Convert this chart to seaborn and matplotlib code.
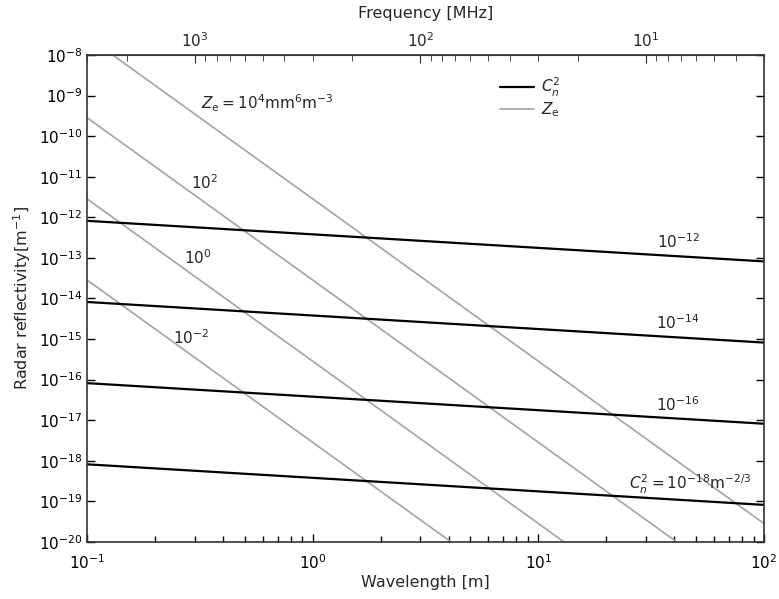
import numpy as np
import pandas as pd
import matplotlib
matplotlib.use("Agg")
import matplotlib.pyplot as plt
import seaborn as sns
from matplotlib.ticker import LogLocator, NullFormatter, FixedLocator

sns.set_style("ticks")
plt.rcParams['font.family'] = ['DejaVu Sans']
plt.rcParams['mathtext.fontset'] = 'dejavusans'

# Data (straight lines on log-log axes: endpoints)
wavelength_ends = [0.1, 100.0]
cn2_labels = ["1e-12", "1e-14", "1e-16", "1e-18"]
cn2_start = [8.2e-13, 8.2e-15, 8.2e-17, 8.2e-19]
cn2_end = [8.2e-14, 8.2e-16, 8.2e-18, 8.2e-20]
ze_labels = ["1e4", "1e2", "1e0", "1e-2"]
ze_start = [2.85e-8, 2.85e-10, 2.85e-12, 2.85e-14]
ze_end = [2.85e-20, 2.85e-22, 2.85e-24, 2.85e-26]
freq_ticks = [1000, 100, 10]

rows = []
for lab, a, b in zip(cn2_labels, cn2_start, cn2_end):
    rows += [("Cn2", lab, wavelength_ends[0], a), ("Cn2", lab, wavelength_ends[1], b)]
for lab, a, b in zip(ze_labels, ze_start, ze_end):
    rows += [("Ze", lab, wavelength_ends[0], a), ("Ze", lab, wavelength_ends[1], b)]
df = pd.DataFrame(rows, columns=["kind", "level", "wavelength", "eta"])

fig = plt.figure(figsize=(7.79, 5.99), dpi=100)
ax = fig.add_axes([0.1117, 0.0952, 0.8690, 0.8130])

gray = "#a3a3a3"
for i, lab in enumerate(ze_labels):
    d = df[(df.kind == "Ze") & (df.level == lab)]
    sns.lineplot(data=d, x="wavelength", y="eta", color=gray, lw=1.2, ax=ax,
                 label=r"$Z_\mathrm{e}$" if i == 0 else None, legend=False)
for i, lab in enumerate(cn2_labels):
    d = df[(df.kind == "Cn2") & (df.level == lab)]
    sns.lineplot(data=d, x="wavelength", y="eta", color="black", lw=1.6, ax=ax,
                 label=r"$C_n^2$" if i == 0 else None, legend=False)

ax.set_xscale("log")
ax.set_yscale("log")
ax.set_xlim(0.1, 100)
ax.set_ylim(1e-20, 1e-8)
ax.yaxis.set_major_locator(LogLocator(base=10, numticks=20))
ax.yaxis.set_minor_locator(LogLocator(base=10, subs=[], numticks=20))
ax.xaxis.set_minor_locator(LogLocator(base=10, subs=np.arange(2, 10), numticks=20))
ax.xaxis.set_minor_formatter(NullFormatter())
ax.tick_params(axis="both", which="both", direction="in", right=True, top=False,
               labelsize=11, colors="black")
ax.tick_params(axis="both", which="major", length=6, width=1)
ax.tick_params(axis="x", which="minor", length=4, width=1)
ax.tick_params(axis="x", which="major", pad=8)
for s in ax.spines.values():
    s.set_color("#333333")
    s.set_linewidth(1.2)

ax.set_xlabel("Wavelength [m]", fontsize=11.5, labelpad=2)
ax.set_ylabel("Radar reflectivity[m$^{-1}$]", fontsize=11.5, labelpad=4)

sec = ax.secondary_xaxis("top", functions=(lambda x: 300.0 / x, lambda f: 300.0 / f))
sec.set_xlabel("Frequency [MHz]", fontsize=11.5, labelpad=10)
sec.xaxis.set_major_locator(FixedLocator(freq_ticks))
sec.xaxis.set_minor_locator(LogLocator(base=10, subs=np.arange(2, 10), numticks=20))
sec.xaxis.set_minor_formatter(NullFormatter())
sec.tick_params(axis="x", which="both", direction="in", labelsize=11)
sec.tick_params(axis="x", which="major", length=6)
sec.tick_params(axis="x", which="minor", length=4)
sec.spines["top"].set_color("#333333")

ax.text(0.63, 6.6e-10, r"$Z_\mathrm{e}=10^4\mathrm{mm^6m^{-3}}$", fontsize=11, ha="center", va="center")
ax.text(0.333, 7e-12, r"$10^2$", fontsize=11, ha="center", va="center")
ax.text(0.31, 1e-13, r"$10^0$", fontsize=11, ha="center", va="center")
ax.text(0.29, 1.07e-15, r"$10^{-2}$", fontsize=11, ha="center", va="center")
ax.text(41.6, 2.5e-13, r"$10^{-12}$", fontsize=11, ha="center", va="center")
ax.text(41.6, 2.5e-15, r"$10^{-14}$", fontsize=11, ha="center", va="center")
ax.text(41.6, 2.4e-17, r"$10^{-16}$", fontsize=11, ha="center", va="center")
ax.text(47, 2.6e-19, r"$C_n^2=10^{-18}\mathrm{m}^{-2/3}$", fontsize=11, ha="center", va="center")

handles, labels = ax.get_legend_handles_labels()
order = [labels.index(r"$C_n^2$"), labels.index(r"$Z_\mathrm{e}$")]
ax.legend([handles[k] for k in order], [labels[k] for k in order],
          loc="upper left", bbox_to_anchor=(0.59, 0.985), frameon=False,
          fontsize=11, handlelength=2.2, labelspacing=0.1, handletextpad=0.5)

fig.savefig("out.png", dpi=100)
